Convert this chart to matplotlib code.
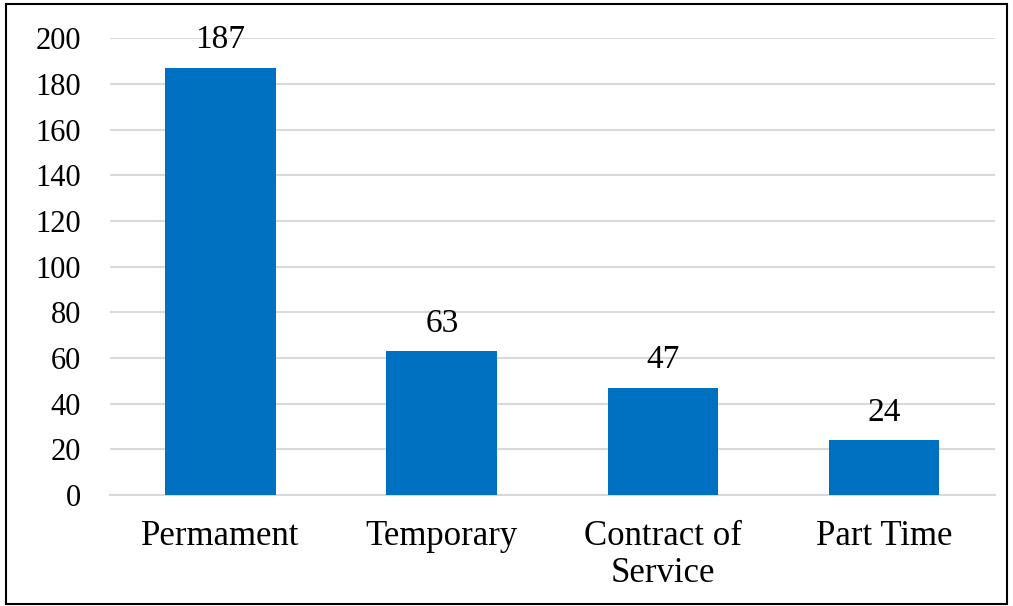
import matplotlib.pyplot as plt
from matplotlib.patches import Rectangle

categories = ["Permament", "Temporary", "Contract of\nService", "Part Time"]
values = [187, 63, 47, 24]
yticks = [0, 20, 40, 60, 80, 100, 120, 140, 160, 180, 200]

plt.rcParams["font.family"] = ["Liberation Serif", "DejaVu Serif"]

fig = plt.figure(figsize=(10.13, 6.06), dpi=100)
ax = fig.add_axes([0.1086, 0.183, 0.8734, 0.754])

x = range(len(categories))
bars = ax.bar(x, values, width=0.5, color="#0070C0", zorder=3)
for b, v in zip(bars, values):
    ax.annotate(str(v), (b.get_x() + b.get_width() / 2, v), xytext=(0, 9),
                textcoords="offset points", ha="center", va="bottom", fontsize=24)

ax.set_xlim(-0.5, len(categories) - 0.5)
ax.set_ylim(0, 200)
ax.set_yticks(yticks)
ax.set_yticklabels([str(t) for t in yticks], fontsize=22)
ax.set_xticks(list(x))
ax.set_xticklabels(categories, fontsize=25, linespacing=1.15, va="top")
ax.yaxis.grid(True, color="#d9d9d9", linewidth=1.5, zorder=0)
ax.tick_params(axis="both", length=0)
ax.tick_params(axis="y", pad=21)
ax.tick_params(axis="x", pad=18)
for s in ["top", "right", "left"]:
    ax.spines[s].set_visible(False)
ax.spines["bottom"].set_color("#d9d9d9")
ax.spines["bottom"].set_linewidth(1.5)

fig.patches.append(Rectangle((0.006, 0.004), 0.988, 0.99, transform=fig.transFigure,
                             fill=False, edgecolor="black", linewidth=1.5))

fig.savefig("out.png", dpi=100)
